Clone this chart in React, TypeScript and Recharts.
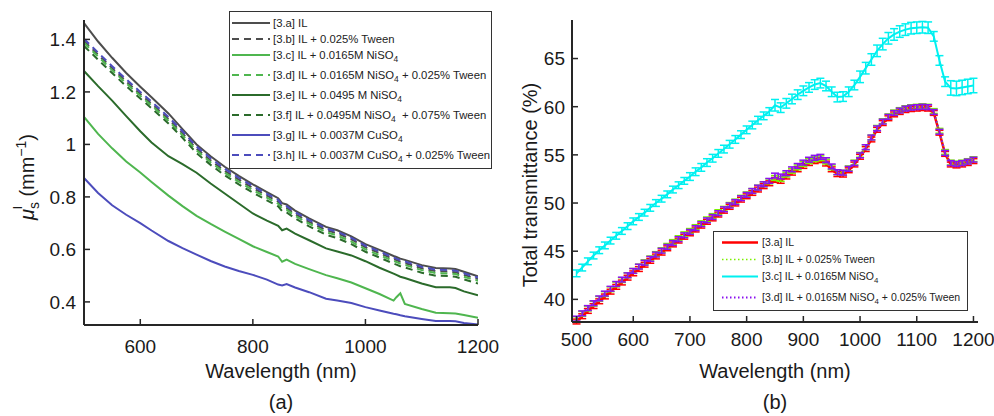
import React from 'react';
import { LineChart, Line, XAxis, YAxis, Legend, ErrorBar } from 'recharts';

// (a) reduced scattering coefficient mu's (mm^-1) vs wavelength
const wlA = [500, 525, 550, 575, 600, 620, 650, 675, 700, 725, 750, 775, 800, 825, 845, 852, 860, 875, 900, 930, 950, 975, 1000, 1025, 1050, 1055, 1062, 1070, 1100, 1125, 1150, 1160, 1175, 1200];
const mu3a = [1.462, 1.392, 1.33, 1.272, 1.22, 1.18, 1.118, 1.058, 1.0, 0.955, 0.915, 0.88, 0.848, 0.818, 0.795, 0.776, 0.771, 0.748, 0.718, 0.686, 0.673, 0.65, 0.62, 0.598, 0.575, 0.571, 0.565, 0.56, 0.54, 0.529, 0.527, 0.525, 0.515, 0.498];
const mu3b = [1.394, 1.342, 1.29, 1.24, 1.192, 1.155, 1.097, 1.042, 0.984, 0.939, 0.899, 0.866, 0.834, 0.805, 0.782, 0.763, 0.758, 0.735, 0.705, 0.674, 0.661, 0.638, 0.608, 0.586, 0.563, 0.559, 0.553, 0.548, 0.528, 0.517, 0.515, 0.513, 0.503, 0.487];
const mu3c = [1.105, 1.04, 0.985, 0.935, 0.893, 0.857, 0.805, 0.765, 0.728, 0.697, 0.668, 0.64, 0.612, 0.59, 0.573, 0.553, 0.561, 0.545, 0.525, 0.502, 0.49, 0.474, 0.452, 0.43, 0.405, 0.418, 0.433, 0.392, 0.373, 0.359, 0.357, 0.356, 0.35, 0.34];
const mu3d = [1.387, 1.335, 1.283, 1.233, 1.185, 1.148, 1.09, 1.035, 0.977, 0.932, 0.892, 0.858, 0.826, 0.797, 0.774, 0.756, 0.751, 0.728, 0.698, 0.666, 0.653, 0.63, 0.6, 0.578, 0.556, 0.552, 0.546, 0.541, 0.521, 0.51, 0.508, 0.506, 0.496, 0.48];
const mu3e = [1.28, 1.222, 1.167, 1.108, 1.05, 1.007, 0.955, 0.925, 0.892, 0.851, 0.813, 0.775, 0.737, 0.71, 0.69, 0.673, 0.679, 0.66, 0.635, 0.604, 0.592, 0.577, 0.555, 0.53, 0.508, 0.503, 0.496, 0.491, 0.47, 0.456, 0.456, 0.453, 0.44, 0.425];
const mu3f = [1.375, 1.323, 1.272, 1.222, 1.175, 1.138, 1.08, 1.025, 0.967, 0.922, 0.882, 0.848, 0.816, 0.787, 0.764, 0.746, 0.741, 0.718, 0.688, 0.656, 0.643, 0.62, 0.591, 0.569, 0.546, 0.542, 0.536, 0.531, 0.511, 0.5, 0.498, 0.496, 0.486, 0.47];
const mu3g = [0.872, 0.815, 0.768, 0.732, 0.7, 0.672, 0.632, 0.605, 0.58, 0.556, 0.535, 0.518, 0.503, 0.485, 0.466, 0.463, 0.468, 0.455, 0.437, 0.412, 0.405, 0.396, 0.38, 0.367, 0.355, 0.353, 0.349, 0.345, 0.335, 0.327, 0.327, 0.326, 0.32, 0.314];
const mu3h = [1.402, 1.35, 1.298, 1.248, 1.2, 1.163, 1.105, 1.05, 0.992, 0.947, 0.907, 0.873, 0.841, 0.812, 0.789, 0.769, 0.765, 0.742, 0.712, 0.68, 0.667, 0.644, 0.614, 0.592, 0.569, 0.565, 0.559, 0.554, 0.534, 0.523, 0.521, 0.519, 0.509, 0.493];

const labelsA = [
  '[3.a] IL',
  '[3.b] IL + 0.025% Tween',
  '[3.c] IL + 0.0165M NiSO_4',
  '[3.d] IL + 0.0165M NiSO_4 + 0.025% Tween',
  '[3.e] IL + 0.0495 M NiSO_4',
  '[3.f] IL + 0.0495M NiSO_4  + 0.075% Tween',
  '[3.g] IL + 0.0037M CuSO_4',
  '[3.h] IL + 0.0037M CuSO_4 + 0.025% Tween',
];
const xTicksA = [600, 800, 1000, 1200];
const yTicksA = [0.4, 0.6, 0.8, 1, 1.2, 1.4];

// (b) total transmittance (%) vs wavelength, with error bars
const wlB = [500, 510, 520, 530, 540, 550, 560, 570, 580, 590, 600, 610, 620, 630, 640, 650, 660, 670, 680, 690, 700, 710, 720, 730, 740, 750, 760, 770, 780, 790, 800, 810, 820, 830, 840, 850, 860, 870, 880, 890, 900, 910, 920, 930, 940, 950, 960, 970, 980, 990, 1000, 1010, 1020, 1030, 1040, 1050, 1060, 1070, 1080, 1090, 1100, 1110, 1120, 1130, 1140, 1150, 1160, 1170, 1180, 1190, 1200];
const tt3a = [37.7, 38.25, 38.8, 39.3, 39.8, 40.3, 40.8, 41.3, 41.75, 42.25, 42.7, 43.15, 43.6, 44.0, 44.45, 44.85, 45.3, 45.7, 46.1, 46.5, 46.85, 47.25, 47.65, 48.05, 48.4, 48.8, 49.2, 49.6, 49.95, 50.35, 50.7, 51.05, 51.4, 51.75, 52.05, 52.4, 52.3, 52.75, 53.15, 53.5, 53.85, 54.15, 54.35, 54.45, 54.1, 53.5, 53.0, 52.95, 53.4, 54.0, 54.8, 55.6, 56.6, 57.6, 58.3, 58.8, 59.2, 59.45, 59.65, 59.75, 59.8, 59.85, 59.8, 59.35, 57.3, 55.1, 54.0, 53.9, 54.0, 54.15, 54.35];
const tt3b = [37.95, 38.5, 39.05, 39.55, 40.05, 40.55, 41.05, 41.55, 42.0, 42.5, 42.95, 43.4, 43.85, 44.25, 44.7, 45.1, 45.55, 45.95, 46.35, 46.75, 47.1, 47.5, 47.9, 48.3, 48.65, 49.05, 49.4, 49.8, 50.15, 50.55, 50.9, 51.25, 51.6, 51.95, 52.25, 52.6, 52.5, 52.95, 53.35, 53.7, 54.05, 54.35, 54.55, 54.65, 54.3, 53.7, 53.2, 53.15, 53.6, 54.2, 55.0, 55.8, 56.8, 57.8, 58.5, 59.0, 59.4, 59.65, 59.85, 59.95, 60.0, 60.05, 60.0, 59.55, 57.5, 55.3, 54.2, 54.1, 54.2, 54.35, 54.55];
const tt3c = [42.7, 43.3, 43.95, 44.55, 45.1, 45.6, 46.1, 46.6, 47.1, 47.6, 48.1, 48.55, 49.0, 49.5, 50.0, 50.45, 50.9, 51.4, 51.85, 52.3, 52.75, 53.25, 53.7, 54.2, 54.65, 55.15, 55.6, 56.1, 56.6, 57.1, 57.6, 58.1, 58.6, 59.05, 59.5, 60.15, 59.9, 60.35, 60.8, 61.25, 61.65, 62.0, 62.3, 62.45, 62.15, 61.55, 61.0, 61.05, 61.55, 62.25, 63.1, 64.0, 64.9, 65.8, 66.5, 67.1, 67.5, 67.8, 68.0, 68.15, 68.2, 68.25, 68.2, 67.3, 64.8, 62.6, 61.95, 61.9, 62.0, 62.1, 62.2];
const tt3d = [38.0, 38.55, 39.1, 39.6, 40.1, 40.6, 41.1, 41.6, 42.05, 42.5, 42.95, 43.4, 43.8, 44.2, 44.65, 45.05, 45.45, 45.85, 46.25, 46.65, 47.0, 47.4, 47.8, 48.2, 48.55, 48.95, 49.35, 49.75, 50.1, 50.5, 50.85, 51.25, 51.6, 51.95, 52.3, 52.85, 52.75, 53.1, 53.5, 53.85, 54.2, 54.5, 54.7, 54.8, 54.45, 53.8, 53.2, 53.15, 53.55, 54.15, 54.95, 55.8, 56.8, 57.75, 58.45, 58.95, 59.35, 59.6, 59.8, 59.9, 59.95, 60.0, 59.95, 59.45, 57.4, 55.2, 54.15, 54.05, 54.15, 54.3, 54.5];
const err3c = [0.35, 0.35, 0.35, 0.35, 0.35, 0.35, 0.35, 0.35, 0.35, 0.35, 0.35, 0.35, 0.35, 0.35, 0.35, 0.35, 0.35, 0.35, 0.35, 0.35, 0.4, 0.4, 0.4, 0.4, 0.4, 0.4, 0.4, 0.4, 0.4, 0.4, 0.4, 0.4, 0.4, 0.4, 0.4, 0.6, 0.5, 0.5, 0.5, 0.5, 0.5, 0.5, 0.5, 0.5, 0.5, 0.5, 0.5, 0.5, 0.5, 0.5, 0.6, 0.6, 0.6, 0.6, 0.6, 0.6, 0.6, 0.6, 0.6, 0.6, 0.6, 0.6, 0.6, 0.5, 0.5, 0.5, 0.75, 0.75, 0.75, 0.75, 0.75];
const errLow = [0.25, 0.25, 0.25, 0.25, 0.25, 0.25, 0.25, 0.25, 0.25, 0.25, 0.25, 0.25, 0.25, 0.25, 0.25, 0.25, 0.25, 0.25, 0.25, 0.25, 0.25, 0.25, 0.25, 0.25, 0.25, 0.25, 0.25, 0.25, 0.25, 0.25, 0.25, 0.25, 0.25, 0.25, 0.25, 0.25, 0.25, 0.25, 0.25, 0.25, 0.25, 0.25, 0.25, 0.25, 0.25, 0.25, 0.25, 0.25, 0.25, 0.25, 0.25, 0.25, 0.25, 0.25, 0.25, 0.25, 0.25, 0.25, 0.25, 0.25, 0.25, 0.25, 0.25, 0.25, 0.25, 0.25, 0.25, 0.25, 0.25, 0.25, 0.25];

const labelsB = [
  '[3.a] IL',
  '[3.b] IL + 0.025% Tween',
  '[3.c] IL + 0.0165M NiSO_4',
  '[3.d] IL + 0.0165M NiSO_4 + 0.025% Tween',
];
const xTicksB = [500, 600, 700, 800, 900, 1000, 1100, 1200];
const yTicksB = [40, 45, 50, 55, 60, 65];

const dataA = wlA.map((wl, i) => ({
  wl, a: mu3a[i], b: mu3b[i], c: mu3c[i], d: mu3d[i], e: mu3e[i], f: mu3f[i], g: mu3g[i], h: mu3h[i],
}));
const dataB = wlB.map((wl, i) => ({
  wl, a: tt3a[i], b: tt3b[i], c: tt3c[i], d: tt3d[i], ec: err3c[i], el: errLow[i],
}));

const GRAY = '#4d4d4d';
const GREEN = '#4fb64f';
const DKGREEN = '#2b6b2b';
const BLUE = '#4c4cbc';
const DASH = '7 5';

const seriesA = [
  { key: 'a', color: GRAY, dash: undefined },
  { key: 'b', color: GRAY, dash: DASH },
  { key: 'c', color: GREEN, dash: undefined },
  { key: 'd', color: GREEN, dash: DASH },
  { key: 'e', color: DKGREEN, dash: undefined },
  { key: 'f', color: DKGREEN, dash: DASH },
  { key: 'g', color: BLUE, dash: undefined },
  { key: 'h', color: BLUE, dash: DASH },
];

const seriesB = [
  { key: 'a', color: '#ff0000', dash: undefined, width: 2.5, err: 'el' },
  { key: 'b', color: '#7cf000', dash: '1.5 2.5', width: 1.5, err: 'el' },
  { key: 'c', color: '#00f0f0', dash: undefined, width: 2, err: 'ec' },
  { key: 'd', color: '#8a10f0', dash: '1.5 2.5', width: 2, err: 'el' },
];

const INK = '#1a1a1a';
const AXIS = { stroke: '#262626', strokeWidth: 2 };
const FONT = "'Liberation Sans', Arial, Helvetica, sans-serif";

// MATLAB-style inward ticks
const bottomTick = (gap: number) => (props: any) => {
  const { x, y, payload } = props;
  const axisY = y - gap;
  return (
    <g>
      <line x1={x} x2={x} y1={axisY} y2={axisY - 6} stroke="#262626" strokeWidth={1.5} />
      <text x={x} y={y} dy="0.71em" textAnchor="middle" fontSize={19} fill={INK}>{payload.value}</text>
    </g>
  );
};
const leftTick = (gap: number) => (props: any) => {
  const { x, y, payload } = props;
  const axisX = x + gap;
  return (
    <g>
      <line x1={axisX} x2={axisX + 6} y1={y} y2={y} stroke="#262626" strokeWidth={1.5} />
      <text x={x} y={y} dy="0.36em" textAnchor="end" fontSize={19} fill={INK}>{String(payload.value)}</text>
    </g>
  );
};

function withSub(label: string) {
  const parts = label.split('_4');
  return parts.map((p, i) => (
    <React.Fragment key={i}>
      {p}
      {i < parts.length - 1 && <sub style={{ fontSize: '0.75em', lineHeight: 0 }}>4</sub>}
    </React.Fragment>
  ));
}

function LegendBox({ series, labels, fontSize, lineH, subH, sample, pad, gapText, lineWidth }: any) {
  return (
    <div style={{ border: '1px solid #333', background: '#fff', padding: `${pad[0]}px 0 ${pad[1]}px ${pad[2]}px`, fontFamily: FONT, fontSize, color: '#222' }}>
      {series.map((s: any, i: number) => {
        const h = labels[i].includes('_4') ? subH : lineH;
        return (
          <div key={s.key} style={{ height: h, display: 'flex', alignItems: 'flex-start', whiteSpace: 'pre' }}>
            <svg width={sample} height={lineH} style={{ flex: 'none' }}>
              <line x1={0} x2={sample} y1={lineH / 2} y2={lineH / 2} stroke={s.color} strokeWidth={s.width ?? lineWidth} strokeDasharray={s.dash} />
            </svg>
            <span style={{ lineHeight: `${lineH}px`, marginLeft: gapText }}>{withSub(labels[i])}</span>
          </div>
        );
      })}
    </div>
  );
}

function MuLabel() {
  return (
    <text transform="translate(34,177) rotate(-90)" textAnchor="middle" fontSize={20} fill={INK}>
      <tspan fontStyle="italic">μ</tspan>
      <tspan fontSize={14} dy={5}>s</tspan>
      <tspan fontSize={13} dx={-7} dy={-17}>l</tspan>
      <tspan dx={4} dy={12}> (mm</tspan>
      <tspan fontSize={14} dy={-8}>−1</tspan>
      <tspan dy={8}>)</tspan>
    </text>
  );
}

function XLabel({ viewBox, letter, base }: any) {
  const cx = viewBox.x + viewBox.width / 2;
  return (
    <g fill={INK}>
      <text x={cx} y={base} textAnchor="middle" fontSize={20}>Wavelength (nm)</text>
      <text x={cx} y={409} textAnchor="middle" fontSize={20}>{letter}</text>
    </g>
  );
}

export default function App() {
  return (
    <div style={{ position: 'absolute', left: 0, top: 0, width: 994, height: 416, background: '#fff', fontFamily: FONT }}>
      <div style={{ position: 'absolute', left: 0, top: 0 }}>
        <LineChart width={500} height={416} data={dataA} margin={{ top: 20, right: 22, bottom: 61, left: 0 }}>
          <XAxis
            dataKey="wl"
            type="number"
            domain={[500, 1200]}
            ticks={xTicksA}
            allowDataOverflow
            height={30}
            tickSize={0}
            tickMargin={15}
            tick={bottomTick(15)}
            axisLine={AXIS}
            label={{ content: (p: any) => <XLabel viewBox={p.viewBox} letter="(a)" base={378} /> }}
          />
          <YAxis
            type="number"
            domain={[0.312, 1.474]}
            ticks={yTicksA}
            allowDataOverflow
            width={84}
            tickSize={0}
            tickMargin={8}
            tick={leftTick(8)}
            axisLine={AXIS}
            label={{ content: () => <MuLabel /> }}
          />
          {seriesA.map((s) => (
            <Line
              key={s.key}
              dataKey={s.key}
              stroke={s.color}
              strokeWidth={2}
              strokeDasharray={s.dash}
              dot={false}
              activeDot={false}
              type="linear"
              isAnimationActive={false}
            />
          ))}
          <Legend
            layout="vertical"
            align="center"
            verticalAlign="middle"
            wrapperStyle={{ left: 229, top: 11, width: 263 }}
            content={() => (
              <LegendBox series={seriesA} labels={labelsA} fontSize={11.3} lineH={16} subH={20} sample={38} pad={[3, 1, 2]} gapText={3} lineWidth={2} />
            )}
          />
        </LineChart>
      </div>
      <div style={{ position: 'absolute', left: 500, top: 0 }}>
        <LineChart width={494} height={416} data={dataB} margin={{ top: 20, right: 16, bottom: 64, left: 0 }}>
          <XAxis
            dataKey="wl"
            type="number"
            domain={[492, 1208]}
            ticks={xTicksB}
            allowDataOverflow
            height={30}
            tickSize={0}
            tickMargin={11}
            tick={bottomTick(11)}
            axisLine={AXIS}
            label={{ content: (p: any) => <XLabel viewBox={p.viewBox} letter="(b)" base={378} /> }}
          />
          <YAxis
            type="number"
            domain={[37.65, 69]}
            ticks={yTicksB}
            allowDataOverflow
            width={72}
            tickSize={0}
            tickMargin={7}
            tick={leftTick(7)}
            axisLine={AXIS}
            label={{
              content: () => (
                <text transform="translate(37,185) rotate(-90)" textAnchor="middle" fontSize={20} fill={INK}>Total transmittance (%)</text>
              ),
            }}
          />
          {seriesB.map((s) => (
            <Line
              key={s.key}
              dataKey={s.key}
              stroke={s.color}
              strokeWidth={s.width}
              strokeDasharray={s.dash}
              dot={false}
              activeDot={false}
              type="linear"
              isAnimationActive={false}
            >
              <ErrorBar dataKey={s.err} width={4} stroke={s.color} strokeWidth={1.5} direction="y" isAnimationActive={false} />
            </Line>
          ))}
          <Legend
            layout="vertical"
            align="center"
            verticalAlign="middle"
            wrapperStyle={{ left: 213, top: 231, width: 255 }}
            content={() => (
              <LegendBox series={seriesB} labels={labelsB} fontSize={10.5} lineH={17} subH={21} sample={36} pad={[2, 0, 8]} gapText={4} lineWidth={2.5} />
            )}
          />
        </LineChart>
      </div>
    </div>
  );
}
